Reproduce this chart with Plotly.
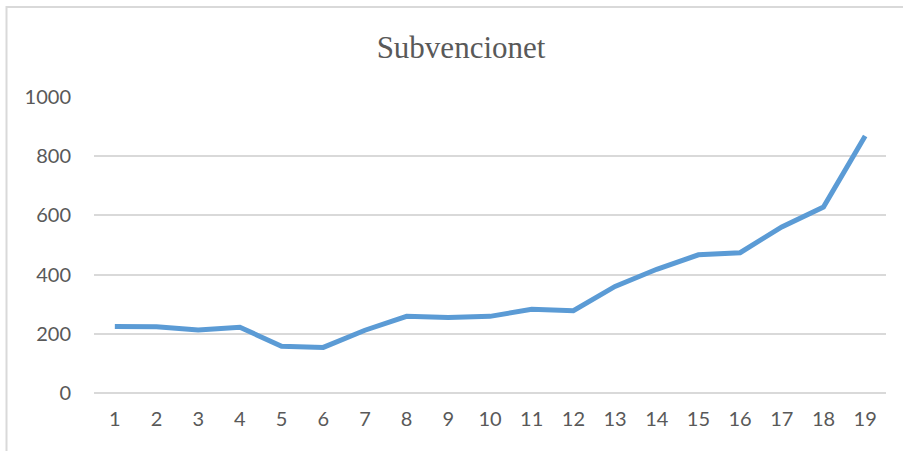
import plotly.graph_objects as go

categories = [str(i) for i in range(1, 20)]
values = [225, 224, 213, 222, 158, 154, 212, 259, 255, 259, 283, 278, 360, 418, 467, 474, 561, 628, 868]
y_ticks = [0, 200, 400, 600, 800, 1000]

fig = go.Figure()
fig.add_trace(go.Scatter(
    x=categories, y=values, mode="lines",
    line=dict(color="#5B9BD5", width=5, shape="linear"),
    showlegend=False, hoverinfo="x+y",
))

tick_font = dict(family="Lato, Carlito, Calibri, sans-serif", size=20, color="#595959")

fig.update_layout(
    width=903, height=451,
    margin=dict(l=94, r=17, t=97, b=58),
    paper_bgcolor="white", plot_bgcolor="white",
    title=dict(text="Subvencionet", x=461/903, xref="container", xanchor="center",
               y=1 - 47/451, yref="container", yanchor="middle",
               font=dict(family="Liberation Serif, Times New Roman, serif", size=31, color="#595959")),
    xaxis=dict(type="category", range=[-0.5, 18.5], showgrid=False, showline=False,
               ticks="", tickfont=tick_font, ticklabelstandoff=12),
    yaxis=dict(range=[0, 1000], tickvals=y_ticks, showgrid=True, gridcolor="#D9D9D9", gridwidth=1.5,
               zeroline=True, zerolinecolor="#D9D9D9", zerolinewidth=1.5, showline=False, ticks="",
               tickfont=tick_font, ticklabelstandoff=22),
    shapes=[
        dict(type="line", xref="paper", yref="paper", x0=(6 - 94) / 792, x1=(903 - 94) / 792,
             y0=(393 - 7) / 296, y1=(393 - 7) / 296, line=dict(color="#D9D9D9", width=2)),
        dict(type="line", xref="paper", yref="paper", x0=(6.5 - 94) / 792, x1=(6.5 - 94) / 792,
             y0=(393 - 6) / 296, y1=(393 - 460) / 296, line=dict(color="#D9D9D9", width=2)),
    ],
)

fig.write_html("out.html", config={"displayModeBar": False},
               post_script="document.body.style.margin='0';")
